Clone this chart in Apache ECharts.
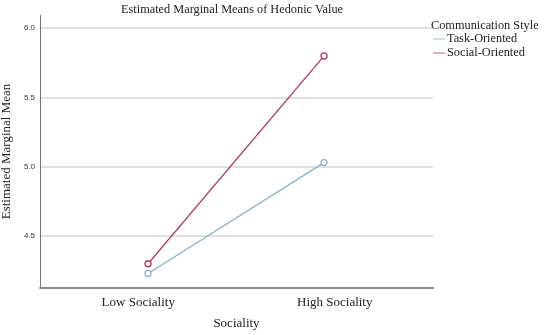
<!DOCTYPE html>
<html><head><meta charset="utf-8">
<script src="https://cdn.jsdelivr.net/npm/echarts@6/dist/echarts.min.js"></script>
<style>html,body{margin:0;padding:0;background:#fff}#c{width:550px;height:335px}</style>
</head><body><div id="c"></div>
<script>
const categories = ['Low Sociality', 'High Sociality'];
const taskOriented = [4.23, 5.03];
const socialOriented = [4.30, 5.80];
const yTicks = [4.5, 5.0, 5.5, 6.0];
const serif = '"Liberation Serif", "Times New Roman", serif';
const taskColor = '#86b4c8';
const socialColor = '#b03a5e';
const toPairs = arr => arr.map((v, i) => [i, v]);
const chart = echarts.init(document.getElementById('c'));
chart.setOption({
  animation: false,
  title: [
    {text: 'Estimated Marginal Means of Hedonic Value', left: 121, top: 4, padding: 0,
     textStyle: {fontFamily: serif, fontSize: 12.3, fontWeight: 'normal', color: '#222'}},
    {text: 'Communication Style', left: 431, top: 20, padding: 0,
     textStyle: {fontFamily: serif, fontSize: 12.3, fontWeight: 'normal', color: '#222'}}
  ],
  legend: {
    orient: 'vertical', left: 433, top: 33, padding: 0, itemGap: 2, itemWidth: 12, itemHeight: 8,
    icon: 'path://M0,3.6H12V4.4H0Z',
    lineStyle: {width: 0},
    textStyle: {fontFamily: serif, fontSize: 12.3, color: '#222', padding: [0, 0, 0, -3]},
    data: [
      {name: 'Task-Oriented', itemStyle: {color: taskColor, borderWidth: 0}},
      {name: 'Social-Oriented', itemStyle: {color: socialColor, borderWidth: 0}}
    ]
  },
  grid: {left: 40, right: 117, top: 15, bottom: 47, outerBoundsMode: 'none', containLabel: false},
  xAxis: [{
    type: 'category', data: categories, boundaryGap: true,
    name: 'Sociality', nameLocation: 'middle', nameGap: 29,
    nameTextStyle: {fontFamily: serif, fontSize: 13, color: '#222'},
    axisLine: {lineStyle: {color: '#8a8a8a', width: 2}},
    axisTick: {show: false},
    axisLabel: {fontFamily: serif, fontSize: 13, color: '#222', margin: 8}
  }, {
    type: 'value', min: -0.614, max: 1.619, show: false
  }],
  yAxis: {
    type: 'value', min: 4.125, max: 6.095,
    name: 'Estimated Marginal Mean', nameLocation: 'middle', nameGap: 18, nameRotate: 90,
    nameTextStyle: {fontFamily: serif, fontSize: 13, color: '#222'},
    axisLine: {show: true, onZero: false, lineStyle: {color: '#777', width: 1}},
    axisTick: {show: false, customValues: yTicks},
    axisLabel: {customValues: yTicks, fontFamily: 'Arial, "Liberation Sans", sans-serif', fontSize: 8, color: '#333', margin: 5,
      formatter: v => v.toFixed(1)},
    splitLine: {show: true, lineStyle: {color: '#d4d4d4', width: 1.5}}
  },
  series: [
    {name: 'Task-Oriented', type: 'line', xAxisIndex: 1, data: toPairs(taskOriented), symbol: 'circle', symbolSize: 6,
     color: taskColor,
     lineStyle: {color: taskColor, width: 1.3},
     itemStyle: {color: '#fff', borderColor: taskColor, borderWidth: 1.3}},
    {name: 'Social-Oriented', type: 'line', xAxisIndex: 1, data: toPairs(socialOriented), symbol: 'circle', symbolSize: 6,
     color: socialColor,
     lineStyle: {color: socialColor, width: 1.3},
     itemStyle: {color: '#fff', borderColor: socialColor, borderWidth: 1.3}}
  ]
});
</script></body></html>
